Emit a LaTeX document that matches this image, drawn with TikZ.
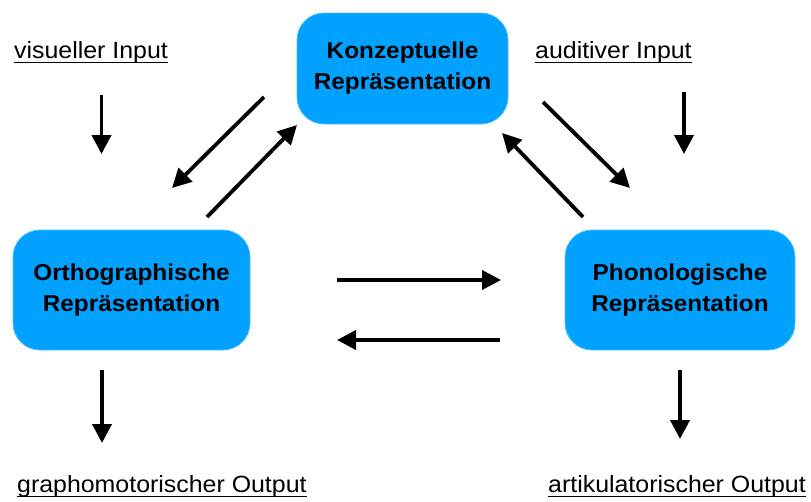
\documentclass[tikz,border=0pt]{standalone}
\usepackage{fontspec}
\setmainfont{Liberation Sans}[FakeStretch=1.06]
\usetikzlibrary{arrows.meta}
\definecolor{boxblue}{RGB}{0,161,255}
\begin{document}
\begin{tikzpicture}[x=1pt,y=-1pt,
  repbox/.style={fill=boxblue, draw=boxblue!70!white, line width=0.8pt, rounded corners=27pt,
    align=center, inner sep=0pt,
    font=\fontsize{23}{31}\selectfont\bfseries},
  lbl/.style={anchor=base west, inner sep=0pt, font=\fontsize{23.5}{27}\selectfont},
  arr/.style={line width=3.8pt, -{Triangle[length=19pt,width=19pt]}},
  uline/.style={line width=1.2pt}]
\useasboundingbox (0,0) rectangle (811,501);

% boxes
\node[repbox, minimum width=211pt, minimum height=111pt] (konz) at (402.5,68.5) {Konzeptuelle\\Repräsentation};
\node[repbox, minimum width=237pt, minimum height=120pt] (orth) at (131.5,290) {Orthographische\\Repräsentation};
\node[repbox, minimum width=230pt, minimum height=120pt] (phon) at (680,290) {Phonologische\\Repräsentation};

% labels
\node[lbl] (vin) at (14,58) {visueller Input};
\node[lbl] (ain) at (535,58) {auditiver Input};
\node[lbl] (gout) at (17,492) {graphomotorischer Output};
\node[lbl] (aout) at (548,492) {artikulatorischer Output};
\foreach \n in {vin,ain,gout,aout}
  \draw[uline] ([yshift=-4.5pt]\n.base west) -- ([yshift=-4.5pt]\n.base east);

% arrow endpoints
\coordinate (vinS) at (101.5,95);   \coordinate (vinE) at (101.5,154);
\coordinate (ainS) at (684,92);     \coordinate (ainE) at (684,154);
\coordinate (goS) at (102,370);     \coordinate (goE) at (102,443);
\coordinate (aoS) at (680,370);     \coordinate (aoE) at (680,439);
\coordinate (k2oS) at (264,97);     \coordinate (k2oE) at (172,188);
\coordinate (o2kS) at (207,217);    \coordinate (o2kE) at (297,125);
\coordinate (k2pS) at (543,102);    \coordinate (k2pE) at (630,188);
\coordinate (p2kS) at (583,217);    \coordinate (p2kE) at (502,133);
\coordinate (o2pS) at (337,280);    \coordinate (o2pE) at (501,280);
\coordinate (p2oS) at (500,340);    \coordinate (p2oE) at (337,340);

\draw[arr] (vinS) -- (vinE);
\draw[arr] (ainS) -- (ainE);
\draw[arr] (goS) -- (goE);
\draw[arr] (aoS) -- (aoE);
\draw[arr] (k2oS) -- (k2oE);
\draw[arr] (o2kS) -- (o2kE);
\draw[arr] (k2pS) -- (k2pE);
\draw[arr] (p2kS) -- (p2kE);
\draw[arr] (o2pS) -- (o2pE);
\draw[arr] (p2oS) -- (p2oE);
\end{tikzpicture}
\end{document}
